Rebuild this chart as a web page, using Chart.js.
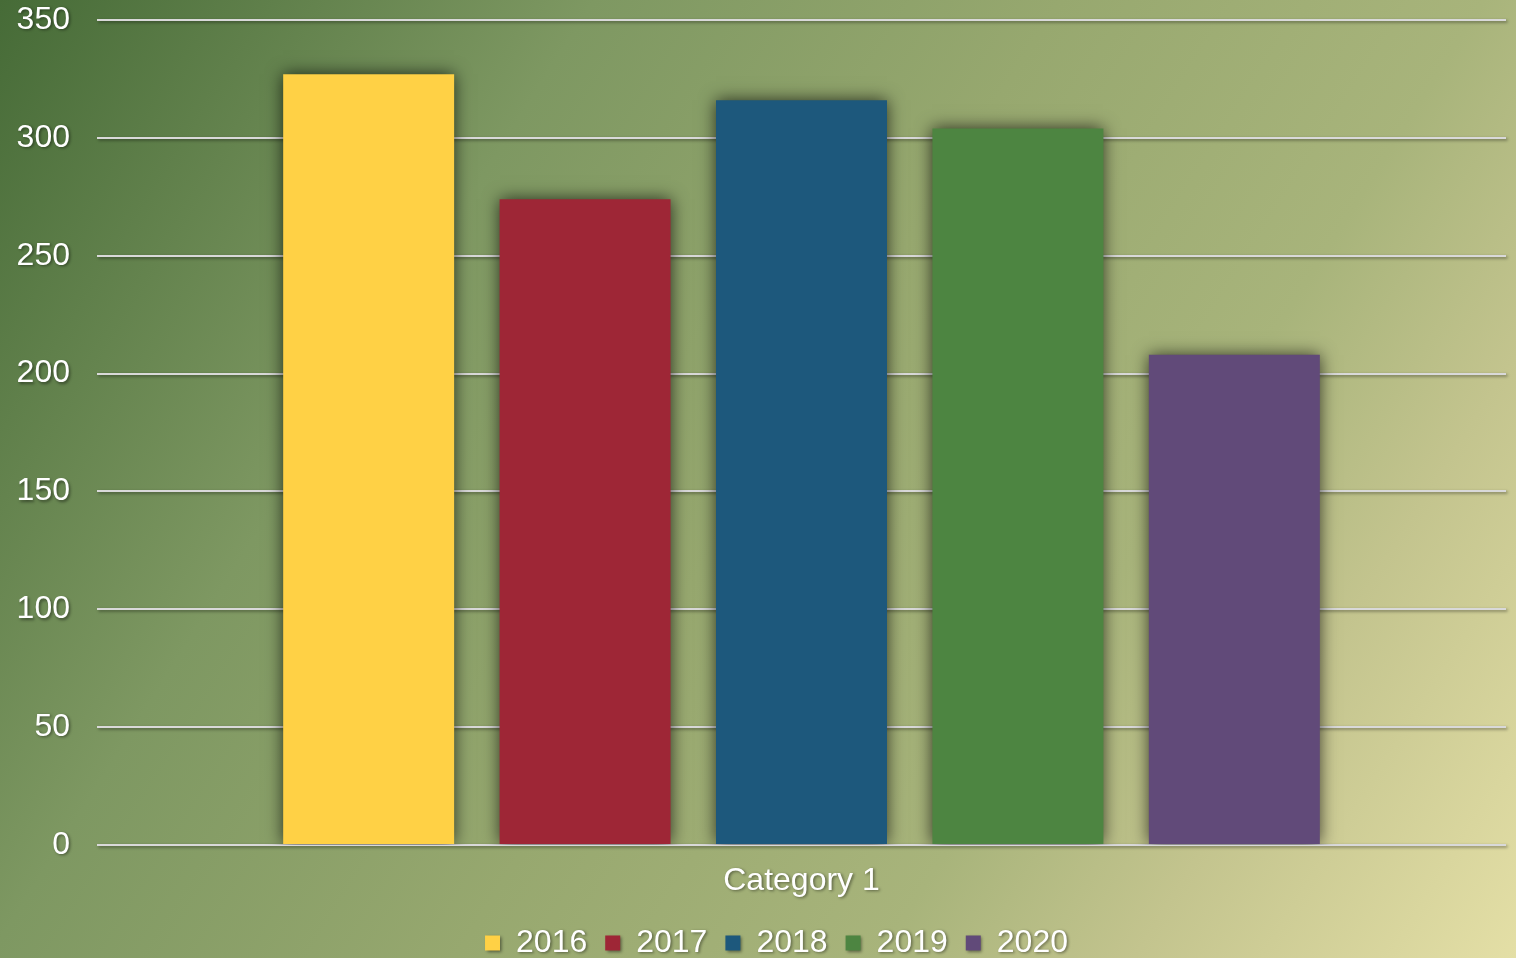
<!DOCTYPE html>
<html>
<head>
<meta charset="utf-8">
<script src="https://cdn.jsdelivr.net/npm/chart.js@4.4.1/dist/chart.umd.min.js"></script>
<style>
  html, body { margin: 0; padding: 0; overflow: hidden; }
  #wrap { width: 1516px; height: 958px; }
</style>
</head>
<body>
<div id="wrap"><canvas id="barChart"></canvas></div>
<script>
// chart data
var categories = ['Category 1'];
var seriesNames = ['2016', '2017', '2018', '2019', '2020'];
var seriesValues = [[327], [274], [316], [304], [208]];
var seriesColors = ['#ffd145', '#9e2636', '#1d587c', '#4d8541', '#614a79'];
var yTicks = [0, 50, 100, 150, 200, 250, 300, 350];

var fontFamily = '"Liberation Sans", Arial, sans-serif';

// background gradient + soft text shadow
var bgPlugin = {
    id: 'bg',
    afterLayout: function (chart) {
        // nudge legend a bit to the right, like the original
        if (chart.legend) {
            chart.legend.left += 15;
            chart.legend.right += 15;
        }
    },
    beforeDraw: function (chart) {
        var ctx = chart.ctx;
        var w = chart.width, h = chart.height;
        var g = ctx.createLinearGradient(0, 0, w, h);
        g.addColorStop(0, '#466b37');
        g.addColorStop(0.28, '#7e9862');
        g.addColorStop(0.5, '#97a86f');
        g.addColorStop(0.7, '#a8b47b');
        g.addColorStop(0.82, '#c3c48e');
        g.addColorStop(1, '#e4dfa6');
        ctx.save();
        ctx.fillStyle = g;
        ctx.fillRect(0, 0, w, h);
        ctx.restore();
        ctx.shadowColor = 'rgba(0,0,0,0.45)';
        ctx.shadowBlur = 3;
        ctx.shadowOffsetX = 1.5;
        ctx.shadowOffsetY = 1.5;
    },
    beforeDatasetsDraw: function (chart) {
        var ctx = chart.ctx;
        ctx.save();
        ctx.shadowColor = 'rgba(0,0,0,0.7)';
        ctx.shadowBlur = 16;
        ctx.shadowOffsetX = 0;
        ctx.shadowOffsetY = 0;
    },
    afterDatasetsDraw: function (chart) {
        chart.ctx.restore();
    }
};

var datasets = [];
for (var i = 0; i < seriesNames.length; i++) {
    datasets.push({
        label: seriesNames[i],
        data: seriesValues[i],
        backgroundColor: seriesColors[i],
        borderWidth: 0,
        categoryPercentage: 0.768,
        barPercentage: 0.79
    });
}

var ctx = document.getElementById('barChart').getContext('2d');
new Chart(ctx, {
    type: 'bar',
    data: { labels: categories, datasets: datasets },
    plugins: [bgPlugin],
    options: {
        responsive: true,
        maintainAspectRatio: false,
        animation: false,
        layout: { padding: { left: 17, right: 10, top: 20, bottom: -11 } },
        plugins: {
            tooltip: { enabled: false },
            legend: {
                position: 'bottom',
                labels: {
                    color: '#ffffff',
                    font: { family: fontFamily, size: 32 },
                    boxWidth: 15,
                    boxHeight: 15,
                    padding: 18
                }
            }
        },
        scales: {
            x: {
                grid: { display: false },
                border: { display: false },
                ticks: {
                    color: '#ffffff',
                    font: { family: fontFamily, size: 32, lineHeight: 1 },
                    padding: 12
                }
            },
            y: {
                min: 0,
                max: 350,
                afterBuildTicks: function (axis) {
                    axis.ticks = yTicks.map(function (v) { return { value: v }; });
                },
                afterFit: function (axis) {
                    axis.width = 80;
                    axis.paddingTop = 0;
                    axis.paddingBottom = 0;
                },
                grid: { color: '#d9d9d9', lineWidth: 2, drawTicks: false },
                border: { display: false },
                ticks: {
                    color: '#ffffff',
                    font: { family: fontFamily, size: 32 },
                    padding: 27
                }
            }
        }
    }
});
</script>
</body>
</html>
